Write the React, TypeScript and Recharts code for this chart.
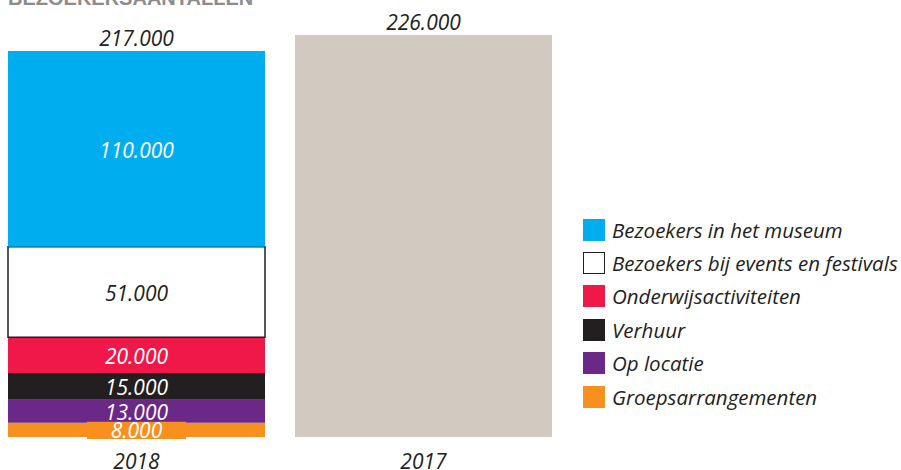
import { BarChart, Bar, XAxis, YAxis, LabelList } from 'recharts';

const categories = ['2018', '2017'];
const museumVisitors = [110000, 0];
const eventVisitors = [51000, 0];
const education = [20000, 0];
const rental = [15000, 0];
const onLocation = [13000, 0];
const groupPackages = [8000, 0];
const visitors2017 = [0, 226000];
const totals = [217000, 226000];

const legendItems = [
  { name: 'Bezoekers in het museum', color: '#00AEEF' },
  { name: 'Bezoekers bij events en festivals', color: '#FFFFFF', border: true },
  { name: 'Onderwijsactiviteiten', color: '#EF1848' },
  { name: 'Verhuur', color: '#231F20' },
  { name: 'Op locatie', color: '#6B2887' },
  { name: 'Groepsarrangementen', color: '#F7901E' },
];

const data = categories.map((year, i) => ({
  year,
  museum: museumVisitors[i],
  events: eventVisitors[i],
  education: education[i],
  rental: rental[i],
  onLocation: onLocation[i],
  groups: groupPackages[i],
  previous: visitors2017[i],
  total: totals[i],
}));

const FONT = '"Open Sans", sans-serif';

const fmt = (n: number) => String(n).replace(/\B(?=(\d{3})+(?!\d))/g, '.');

const innerLabel = (color: string) => (props: any) => {
  const { x, y, width, height, value } = props;
  if (!value) return null;
  return (
    <text
      x={x + width / 2}
      y={y + height / 2}
      dy={9}
      textAnchor="middle"
      fill={color}
      fontFamily={FONT}
      fontStyle="italic"
      fontSize={21}
    >
      {fmt(value)}
    </text>
  );
};

const groupsLabel = (props: any) => {
  const { x, y, width, height, value } = props;
  if (!value) return null;
  const cx = x + width / 2;
  return (
    <g>
      <rect x={cx - 49.5} y={y - 1} width={99} height={height + 3} fill="#F7901E" />
      <text
        x={cx}
        y={y + height / 2}
        dy={8}
        textAnchor="middle"
        fill="#FFFFFF"
        fontFamily={FONT}
        fontStyle="italic"
        fontSize={21}
      >
        {fmt(value)}
      </text>
    </g>
  );
};

const totalLabel = (index: number) => (props: any) => {
  const { x, y, width, value } = props;
  if (!value) return null;
  return (
    <text
      x={x + width / 2}
      y={y - 5}
      textAnchor="middle"
      fill="#222"
      fontFamily={FONT}
      fontStyle="italic"
      fontSize={21}
    >
      {fmt(totals[index])}
    </text>
  );
};

const App = () => {
  return (
    <div style={{ position: 'absolute', left: 0, top: 0, width: 901, height: 470, overflow: 'hidden', background: '#fff' }}>
      <div
        style={{
          position: 'absolute',
          left: 8,
          top: -12,
          fontFamily: '"Liberation Sans", sans-serif',
          fontWeight: 'bold',
          fontSize: 20,
          lineHeight: '20px',
          color: '#8C8C8C',
        }}
      >
        BEZOEKERSAANTALLEN
      </div>
      <div style={{ position: 'absolute', left: -7, top: 0 }}>
        <BarChart width={574} height={470} data={data} margin={{ top: 10, right: 0, bottom: 0, left: 0 }} barSize={257}>
          <XAxis
            dataKey="year"
            axisLine={false}
            tickLine={false}
            height={33}
            tick={{ fill: '#222', fontSize: 21, fontStyle: 'italic', fontFamily: FONT, dy: 9 }}
          />
          <YAxis hide domain={[0, 240000]} />
          <Bar dataKey="groups" stackId="a" fill="#F7901E" isAnimationActive={false}>
            <LabelList dataKey="groups" content={groupsLabel} />
          </Bar>
          <Bar dataKey="onLocation" stackId="a" fill="#6B2887" isAnimationActive={false}>
            <LabelList dataKey="onLocation" content={innerLabel('#fff')} />
          </Bar>
          <Bar dataKey="rental" stackId="a" fill="#231F20" isAnimationActive={false}>
            <LabelList dataKey="rental" content={innerLabel('#fff')} />
          </Bar>
          <Bar dataKey="education" stackId="a" fill="#EF1848" isAnimationActive={false}>
            <LabelList dataKey="education" content={innerLabel('#fff')} />
          </Bar>
          <Bar dataKey="events" stackId="a" fill="#FFFFFF" stroke="#231F20" strokeWidth={1.5} isAnimationActive={false}>
            <LabelList dataKey="events" content={innerLabel('#222')} />
          </Bar>
          <Bar dataKey="museum" stackId="a" fill="#00AEEF" isAnimationActive={false}>
            <LabelList dataKey="museum" content={innerLabel('#fff')} />
            <LabelList dataKey="museum" content={totalLabel(0)} />
          </Bar>
          <Bar dataKey="previous" stackId="a" fill="#D2CAC0" isAnimationActive={false}>
            <LabelList dataKey="previous" content={totalLabel(1)} />
          </Bar>
        </BarChart>
      </div>
      <div style={{ position: 'absolute', left: 583, top: 213 }}>
        {legendItems.map((item) => (
          <div key={item.name} style={{ display: 'flex', alignItems: 'center', height: 33.4 }}>
            <div
              style={{
                width: item.border ? 20 : 22,
                height: item.border ? 20 : 22,
                background: item.color,
                border: item.border ? '1px solid #231F20' : 'none',
                marginRight: 7,
                flexShrink: 0,
              }}
            />
            <span style={{ fontFamily: FONT, fontStyle: 'italic', fontSize: 20.5, color: '#222', whiteSpace: 'nowrap' }}>
              {item.name}
            </span>
          </div>
        ))}
      </div>
    </div>
  );
};

export default App;
